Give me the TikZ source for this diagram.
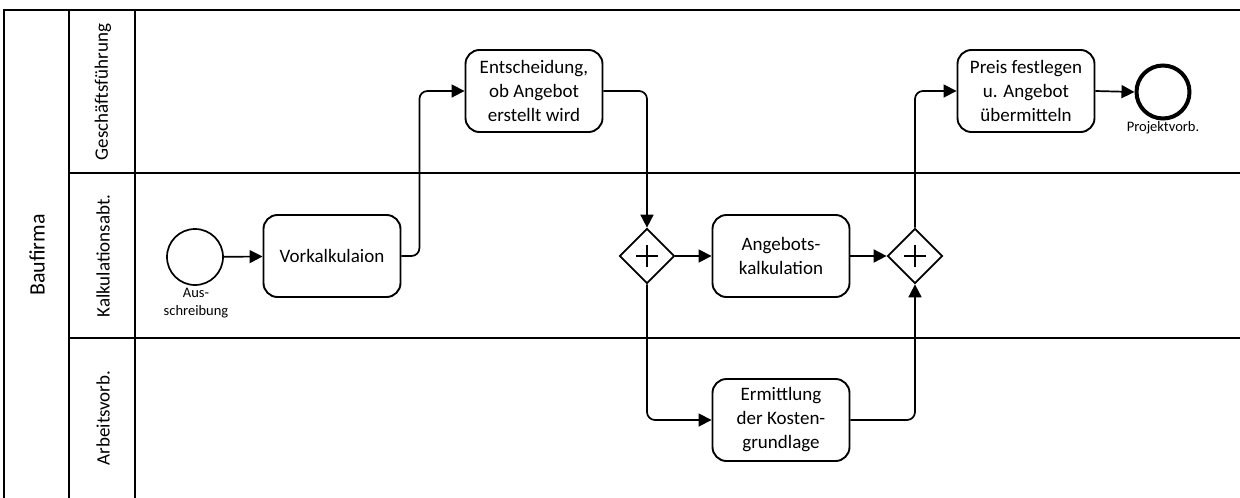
\documentclass[tikz,border=0pt]{standalone}
\usepackage{fontspec}
\setmainfont{Carlito}
\usetikzlibrary{arrows.meta,shapes.geometric}

\begin{document}
\begin{tikzpicture}[x=1pt,y=-1pt,
  frame/.style={line width=1.9pt},
  task/.style={draw, line width=1.9pt, fill=white, rounded corners=14pt,
    minimum width=137pt, minimum height=82pt, align=center, inner sep=2pt,
    font=\fontsize{19}{24}\selectfont},
  startev/.style={draw, circle, line width=1.7pt, minimum size=56pt, inner sep=0pt},
  endev/.style={draw, circle, line width=4pt, minimum size=53pt, inner sep=0pt},
  gateway/.style={draw, diamond, line width=1.7pt, minimum width=55pt,
    minimum height=55pt, inner sep=0pt, fill=white},
  flow/.style={line width=1.7pt, rounded corners=8pt,
    -{Triangle[length=13pt,width=13pt]}},
  evlabel/.style={font=\fontsize{14.5}{17.5}\selectfont, align=center},
  lanelabel/.style={rotate=90, font=\fontsize{19}{23}\selectfont},
]
\useasboundingbox (0,0) rectangle (1240,498);
\clip (0,0) rectangle (1240,498);

% pool and lanes
\draw[frame] (4,510) -- (4,10) -- (1250,10);
\draw[frame] (69,10) -- (69,510);
\draw[frame] (135,10) -- (135,510);
\draw[frame] (69,173) -- (1250,173);
\draw[frame] (69,338) -- (1250,338);

\node[lanelabel, font=\fontsize{22}{26}\selectfont] (pool) at (37,255) {Baufirma};
\node[lanelabel] (l1) at (103,92) {Geschäftsführung};
\node[lanelabel] (l2) at (103,256) {Kalkulationsabt.};
\node[lanelabel] (l3) at (103,418) {Arbeitsvorb.};

% events, tasks and gateways
\node[startev] (start) at (195,257) {};
\node[evlabel] (startlbl) at (196,303) {Aus-\\schreibung};

\node[task] (vk) at (332,256) {Vorkalkulaion};
\node[task] (ent) at (534,91) {Entscheidung,\\ob Angebot\\erstellt wird};

\node[gateway] (g1) at (647,256) {};
\node[task] (ak) at (781,256) {Angebots-\\kalkulation};
\node[task] (em) at (781,420) {Ermittlung\\der Kosten-\\grundlage};
\node[gateway] (g2) at (915,256) {};

\node[task] (pr) at (1026,91) {Preis festlegen\\u. Angebot\\übermitteln};
\node[endev] (end) at (1163,92) {};
\node[evlabel] (endlbl) at (1163,128) {Projektvorb.};

% parallel markers
\foreach \g in {g1,g2}{
  \draw[line width=1.7pt] (\g.center) +(-11,0) -- +(11,0)
                          (\g.center) +(0,-11) -- +(0,11);
}

% sequence flows
\draw[flow] (start) -- (vk);
\draw[flow] (vk.east) -- ++(18,0) |- (ent.west);
\draw[flow] (ent.east) -| (g1.north);
\draw[flow] (g1.east) -- (ak.west);
\draw[flow] (g1.south) |- (em.west);
\draw[flow] (ak.east) -- (g2.west);
\draw[flow] (em.east) -| (g2.south);
\draw[flow] (g2.north) |- (pr.west);
\draw[flow] (pr.east) -- (end.west);
\end{tikzpicture}
\end{document}
